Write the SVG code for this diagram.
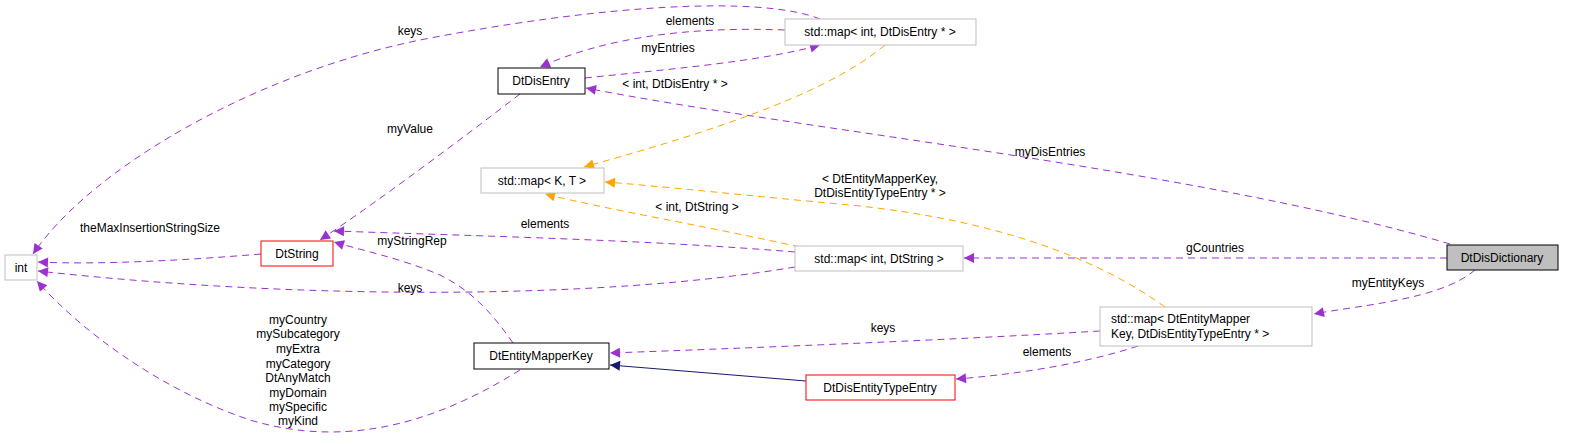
<svg xmlns="http://www.w3.org/2000/svg" width="1571" height="444" viewBox="0 0 1571 444">
<style>
text{font-family:"Liberation Sans",Arial,sans-serif;font-size:12px;fill:#000}
.lbl{text-anchor:middle}
.n{fill:#fff;stroke:#000;stroke-width:1}
.g{fill:#fff;stroke:#bfbfbf;stroke-width:1}
.r{fill:#fff;stroke:#ff0000;stroke-width:1}
.p{fill:none;stroke:#9a32cd;stroke-dasharray:7,5;stroke-width:1}
.o{fill:none;stroke:#ffa500;stroke-dasharray:7,5;stroke-width:1}
.b{fill:none;stroke:#191970;stroke-width:1}
</style>
<defs>
<marker id="ap" viewBox="0 0 10 10" refX="10" refY="5" markerWidth="12" markerHeight="10" orient="auto" markerUnits="userSpaceOnUse"><path d="M0,0L10,5L0,10z" fill="#9a32cd"/></marker>
<marker id="ao" viewBox="0 0 10 10" refX="10" refY="5" markerWidth="12" markerHeight="10" orient="auto" markerUnits="userSpaceOnUse"><path d="M0,0L10,5L0,10z" fill="#ffa500"/></marker>
<marker id="ab" viewBox="0 0 10 10" refX="10" refY="5" markerWidth="12" markerHeight="10" orient="auto" markerUnits="userSpaceOnUse"><path d="M0,0L10,5L0,10z" fill="#191970"/></marker>
</defs>
<g id="edges">
<path class="p" marker-end="url(#ap)" d="M820,19 C760,-5 600,5 420,40 C250,75 90,170 33,254"/>
<text class="lbl" x="410" y="35">keys</text>
<path class="p" marker-end="url(#ap)" d="M785,30 C680,26 600,40 540,67"/>
<text class="lbl" x="690" y="25">elements</text>
<path class="p" marker-end="url(#ap)" d="M585,78 C660,70 760,62 820,45"/>
<text class="lbl" x="668" y="52">myEntries</text>
<path class="o" marker-end="url(#ao)" d="M885,45 C820,100 680,140 584,167"/>
<text class="lbl" x="675" y="88">&lt; int, DtDisEntry * &gt;</text>
<path class="p" marker-end="url(#ap)" d="M1450,244 C1200,170 800,130 586,88"/>
<text class="lbl" x="1050" y="156">myDisEntries</text>
<path class="p" marker-end="url(#ap)" d="M520,94 C460,140 380,200 320,240"/>
<text class="lbl" x="410" y="133">myValue</text>
<path class="p" marker-end="url(#ap)" d="M261,254 C190,260 100,265 38,262"/>
<text class="lbl" x="150" y="232">theMaxInsertionStringSize</text>
<path class="p" marker-end="url(#ap)" d="M795,252 C650,240 480,236 334,231"/>
<text class="lbl" x="545" y="228">elements</text>
<path class="p" marker-end="url(#ap)" d="M513,343 C490,310 470,290 440,275 C400,258 360,250 334,242"/>
<text class="lbl" x="412" y="245">myStringRep</text>
<path class="p" marker-end="url(#ap)" d="M795,267 C600,300 300,300 38,271"/>
<text class="lbl" x="410" y="292">keys</text>
<path class="p" marker-end="url(#ap)" d="M520,370 C440,420 350,450 250,420 C160,390 80,330 37,281"/>
<text class="lbl" x="298" y="324">myCountry</text>
<text class="lbl" x="298" y="338">mySubcategory</text>
<text class="lbl" x="298" y="353">myExtra</text>
<text class="lbl" x="298" y="368">myCategory</text>
<text class="lbl" x="298" y="382">DtAnyMatch</text>
<text class="lbl" x="298" y="397">myDomain</text>
<text class="lbl" x="298" y="411">mySpecific</text>
<text class="lbl" x="298" y="425">myKind</text>
<path class="o" marker-end="url(#ao)" d="M800,247 C700,225 610,210 545,194"/>
<text class="lbl" x="697" y="211">&lt; int, DtString &gt;</text>
<path class="o" marker-end="url(#ao)" d="M1165,307 C1100,260 1000,220 850,205 C750,196 660,186 605,182"/>
<text class="lbl" x="880" y="183">&lt; DtEntityMapperKey,</text>
<text class="lbl" x="880" y="197">DtDisEntityTypeEntry * &gt;</text>
<path class="p" marker-end="url(#ap)" d="M1447,258 L964,258"/>
<text class="lbl" x="1215" y="252">gCountries</text>
<path class="p" marker-end="url(#ap)" d="M1475,270 C1440,300 1360,305 1314,314"/>
<text class="lbl" x="1388" y="287">myEntityKeys</text>
<path class="p" marker-end="url(#ap)" d="M1100,331 C950,340 750,348 610,353"/>
<text class="lbl" x="883" y="332">keys</text>
<path class="p" marker-end="url(#ap)" d="M1138,346 C1080,365 1010,375 956,379"/>
<text class="lbl" x="1047" y="356">elements</text>
<path class="b" marker-end="url(#ab)" d="M806,381 L610,365"/>
</g>
<g id="int"><rect class="g" x="5" y="255" width="32" height="25"/><text class="lbl" x="21" y="272">int</text></g>
<g id="DtString"><rect class="r" x="261" y="241" width="72" height="25"/><text class="lbl" x="297" y="258">DtString</text></g>
<g id="DtDisEntry"><rect class="n" x="498" y="68" width="87" height="26"/><text class="lbl" x="541" y="85">DtDisEntry</text></g>
<g id="mapKT"><rect class="g" x="481" y="168" width="123" height="25"/><text class="lbl" x="542" y="185">std::map&lt; K, T &gt;</text></g>
<g id="DtEntityMapperKey"><rect class="n" x="474" y="343" width="135" height="26"/><text class="lbl" x="541" y="360">DtEntityMapperKey</text></g>
<g id="mapIntDisEntry"><rect class="g" x="785" y="19" width="191" height="26"/><text class="lbl" x="880" y="36">std::map&lt; int, DtDisEntry * &gt;</text></g>
<g id="mapIntString"><rect class="g" x="795" y="246" width="168" height="25"/><text class="lbl" x="879" y="263">std::map&lt; int, DtString &gt;</text></g>
<g id="DtDisDictionary"><rect x="1447" y="245" width="111" height="25" fill="#bfbfbf" stroke="#000"/><text class="lbl" x="1502" y="262">DtDisDictionary</text></g>
<g id="mapEMK"><rect class="g" x="1100" y="307" width="212" height="39"/><text x="1111" y="323">std::map&lt; DtEntityMapper</text><text x="1111" y="338">Key, DtDisEntityTypeEntry * &gt;</text></g>
<g id="DtDisEntityTypeEntry"><rect class="r" x="806" y="375" width="149" height="25"/><text class="lbl" x="880" y="392">DtDisEntityTypeEntry</text></g>
</svg>
